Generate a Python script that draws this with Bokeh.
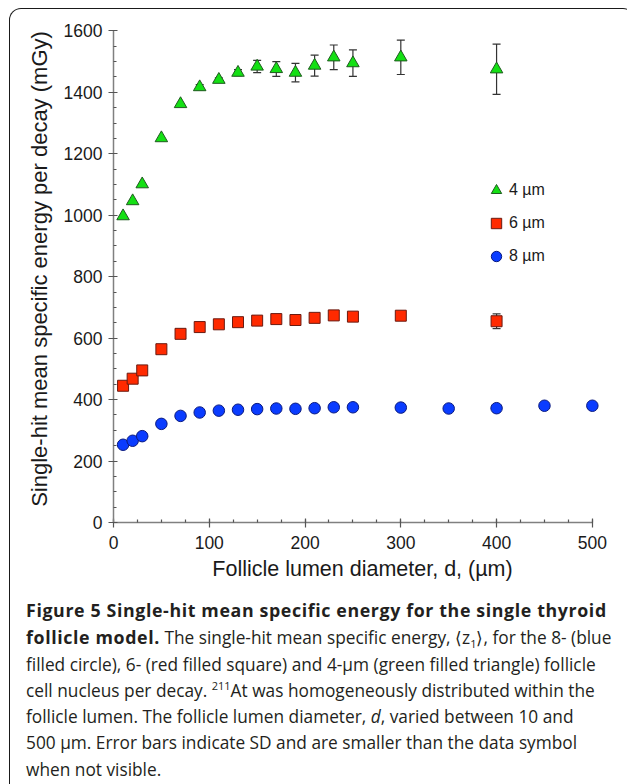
from bokeh.plotting import figure
from bokeh.models import (ColumnDataSource, Whisker, TeeHead, Range1d, Legend,
                          LegendItem, Div, SingleIntervalTicker)
from bokeh.layouts import column
from bokeh.embed import file_html
from bokeh.resources import INLINE

# ---------------- data ----------------
diam_4um = [10, 20, 30, 50, 70, 90, 110, 130, 150, 170, 190, 210, 230, 250, 300, 400]
z1_4um = [997, 1046, 1101, 1251, 1362, 1417, 1441, 1464, 1484, 1476, 1464, 1487, 1514, 1495, 1514, 1475]
sd_4um = [0, 0, 0, 0, 0, 8, 6, 10, 20, 24, 30, 34, 40, 43, 56, 82]

diam_6um = [10, 20, 30, 50, 70, 90, 110, 130, 150, 170, 190, 210, 230, 250, 300, 400]
z1_6um = [445, 468, 495, 564, 614, 636, 645, 652, 657, 662, 659, 666, 674, 670, 673, 655]
sd_6um = [0, 0, 0, 0, 0, 0, 0, 0, 0, 0, 0, 0, 0, 0, 8, 24]

diam_8um = [10, 20, 30, 50, 70, 90, 110, 130, 150, 170, 190, 210, 230, 250, 300, 350, 400, 450, 500]
z1_8um = [253, 266, 281, 321, 347, 358, 364, 367, 369, 371, 370, 372, 375, 375, 374, 371, 372, 380, 380]
sd_8um = [0] * 19

series_labels = ["4 µm", "6 µm", "8 µm"]
x_title = "Follicle lumen diameter, d, (µm)"
y_title = "Single-hit mean specific energy per decay (mGy)"

FONT = "Liberation Sans"

p = figure(frame_width=498, frame_height=507,
           x_range=Range1d(0, 520), y_range=Range1d(0, 1650),
           output_backend="svg", toolbar_location=None,
           min_border_left=103, min_border_right=6, min_border_top=6,
           min_border_bottom=70)
p.outline_line_color = None
p.border_fill_color = None
p.background_fill_color = None
p.xgrid.visible = False
p.ygrid.visible = False

for ax in (p.xaxis[0], p.yaxis[0]):
    ax.axis_line_color = "#808080"
    ax.axis_line_width = 1.5
    ax.major_tick_line_color = "#555555"
    ax.minor_tick_line_color = "#555555"
    ax.major_tick_line_width = 1.2
    ax.minor_tick_line_width = 1.2
    ax.major_tick_in = 4
    ax.major_tick_out = 5
    ax.minor_tick_in = 3
    ax.minor_tick_out = 0
    ax.major_label_text_font = FONT
    ax.major_label_text_font_size = "17.5px"
    ax.major_label_text_color = "#1a1a1a"
    ax.axis_label_text_font = FONT
    ax.axis_label_text_font_style = "normal"
    ax.axis_label_text_color = "#1a1a1a"

p.xaxis.axis_label_text_font_size = "21.5px"
p.yaxis.axis_label_text_font_size = "22px"
p.xaxis.ticker = SingleIntervalTicker(interval=100, num_minor_ticks=4)
p.yaxis.ticker = SingleIntervalTicker(interval=200, num_minor_ticks=4)
p.xaxis.bounds = (0, 500)
p.yaxis.bounds = (0, 1600)
p.xaxis.axis_label = x_title
p.yaxis.axis_label = y_title
p.xaxis.major_label_standoff = 8
p.xaxis.axis_label_standoff = 5
p.yaxis.major_label_standoff = 6
p.yaxis.axis_label_standoff = 9


def add_errors(xs, ys, sds):
    xx, lo, hi = [], [], []
    for x, y, s in zip(xs, ys, sds):
        if s > 0:
            xx.append(x); lo.append(y - s); hi.append(y + s)
    if not xx:
        return
    src = ColumnDataSource(dict(x=xx, lower=lo, upper=hi))
    w = Whisker(base="x", lower="lower", upper="upper", source=src,
                line_color="#333333", line_width=1.2, level="underlay",
                upper_head=TeeHead(size=8, line_color="#333333", line_width=1.2),
                lower_head=TeeHead(size=8, line_color="#333333", line_width=1.2))
    p.add_layout(w)


add_errors(diam_4um, z1_4um, sd_4um)
add_errors(diam_6um, z1_6um, sd_6um)
add_errors(diam_8um, z1_8um, sd_8um)

r4 = p.scatter(diam_4um, z1_4um, marker="triangle", size=12.5,
               fill_color="#14e014", line_color="#1f5a1f", line_width=1)
r6 = p.scatter(diam_6um, z1_6um, marker="square", size=11,
               fill_color="#ff2a00", line_color="#6a1a10", line_width=1)
r8 = p.scatter(diam_8um, z1_8um, marker="circle", size=11.5,
               fill_color="#0a3cff", line_color="#0a1a80", line_width=1)

legend = Legend(items=[LegendItem(label=series_labels[0], renderers=[r4]),
                       LegendItem(label=series_labels[1], renderers=[r6]),
                       LegendItem(label=series_labels[2], renderers=[r8])],
                location=(370, 252), glyph_width=26, glyph_height=28,
                label_height=28, spacing=5, padding=0, margin=0,
                label_standoff=0, border_line_color=None,
                background_fill_color=None,
                label_text_font=FONT, label_text_font_size="16px",
                label_text_color="#1a1a1a")
p.add_layout(legend)

B = '<b style="letter-spacing:0.62px;font-size:17.8px;">'
caption_html = (
    '<div style="white-space:nowrap;">'
    + B + 'Figure 5 Single-hit mean specific energy for the single thyroid</b><br>'
    + B + 'follicle model.</b> The single-hit mean specific energy, '
    '\u27e8z<sub style="font-size:11px;line-height:0;">1</sub>\u27e9, for the 8- (blue<br>'
    'filled circle), 6- (red filled square) and 4-µm (green filled triangle) follicle<br>'
    'cell nucleus per decay. <sup style="font-size:11px;line-height:0;">211</sup>At was '
    'homogeneously distributed within the<br>'
    'follicle lumen. The follicle lumen diameter, <i>d</i>, varied between 10 and<br>'
    '500 µm. Error bars indicate SD and are smaller than the data symbol<br>'
    'when not visible.'
    '</div>'
)
cap = Div(text=caption_html, width=614, height=190,
          styles={"font-family": "'Open Sans'", "font-size": "17.3px",
                  "line-height": "26.3px", "color": "#231f20",
                  "padding-left": "11px"})

layout = column(p, cap, margin=(8, 0, 0, 9),
                styles={"border-left": "1.5px solid #1a1a1a",
                        "border-top": "1.5px solid #1a1a1a",
                        "border-right": "1.5px solid #1a1a1a",
                        "border-top-left-radius": "12px",
                        "border-top-right-radius": "12px"})

open("out.html", "w").write(file_html(layout, INLINE))
